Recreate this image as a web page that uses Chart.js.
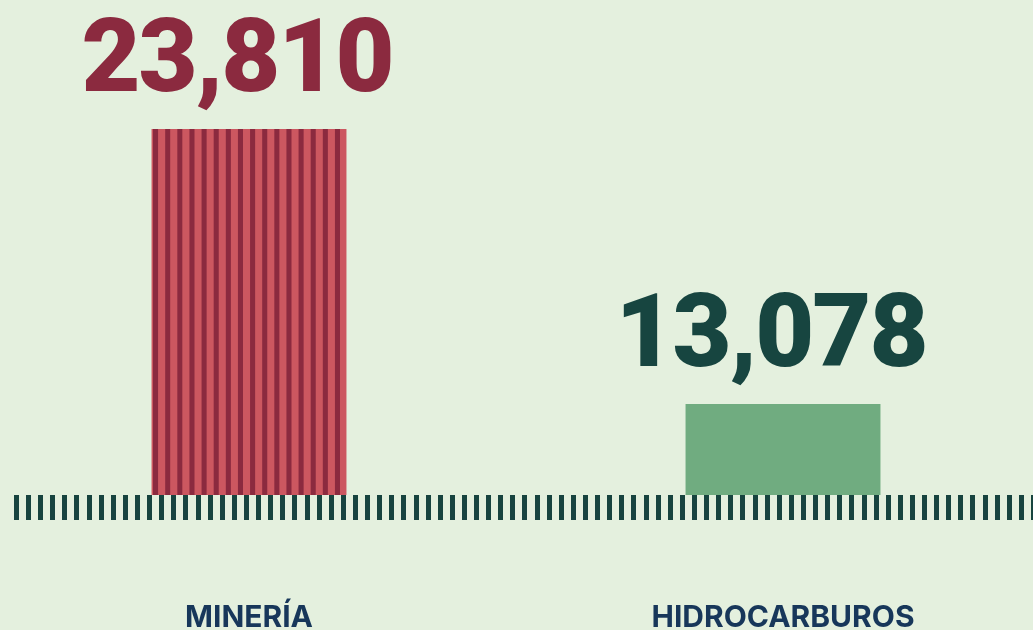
<!DOCTYPE html>
<html>
<head>
<meta charset="utf-8">
<script src="https://cdn.jsdelivr.net/npm/chart.js@4"></script>
<style>
  html, body { margin: 0; padding: 0; background: #e4f0de; overflow: hidden; }
  #wrap { position: absolute; left: -18px; top: 0; width: 1068px; height: 630px; }
</style>
</head>
<body>
<div id="wrap"><canvas id="chart"></canvas></div>
<script>
// Data
const categories = ['MINERÍA', 'HIDROCARBUROS'];
const values = [23810, 13078];
const labelColors = ['#8b2a3f', '#174540'];

// axis range (the bars start from a cut baseline, not from zero)
const yMin = 9527;
const yMax = 28844;

// the dashed strip under the bars
const stripTicks = 84;

// Striped fill for the first bar
function stripePattern(ctx) {
    const c = document.createElement('canvas');
    c.width = 12;
    c.height = 4;
    const p = c.getContext('2d');
    p.fillStyle = '#cc5760';
    p.fillRect(0, 0, 12, 4);
    p.fillStyle = '#8b2a3f';
    p.fillRect(0, 0, 5, 4);
    const pattern = ctx.createPattern(c, 'repeat');
    pattern.setTransform(new DOMMatrix([1.0108, 0, 0, 1, 1.18, 0]));
    return pattern;
}

const canvas = document.getElementById('chart');
const ctx = canvas.getContext('2d');

// Value labels above the bars
const valueLabels = {
    id: 'valueLabels',
    afterDatasetsDraw(chart) {
        const c = chart.ctx;
        const meta = chart.getDatasetMeta(0);
        c.save();
        c.font = '900 102px Roboto';
        c.letterSpacing = '-2px';
        c.textAlign = 'center';
        c.textBaseline = 'alphabetic';
        meta.data.forEach(function (bar, i) {
            c.fillStyle = labelColors[i];
            c.fillText(values[i].toLocaleString('en-US'), bar.x - 12, bar.y - 38);
        });
        c.restore();
    }
};

new Chart(canvas, {
    type: 'bar',
    data: {
        labels: categories,
        datasets: [{
            data: values,
            xAxisID: 'x',
            yAxisID: 'y',
            backgroundColor: [stripePattern(ctx), '#70ac80'],
            borderWidth: 0,
            categoryPercentage: 1,
            barPercentage: 0.365
        }]
    },
    options: {
        responsive: true,
        maintainAspectRatio: false,
        animation: false,
        layout: { padding: 0 },
        plugins: {
            legend: { display: false },
            tooltip: { enabled: false }
        },
        scales: {
            x: {
                position: 'bottom',
                weight: 1,
                grid: { display: false, drawTicks: false },
                border: { display: false },
                ticks: {
                    padding: 80,
                    color: '#17375a',
                    font: { family: 'Inter', size: 30, weight: 'bold' },
                    maxRotation: 0,
                    autoSkip: false
                },
                afterFit: function (scale) { scale.height = 110; }
            },
            y: {
                display: false,
                min: yMin,
                max: yMax
            },
            strip: {
                type: 'linear',
                position: 'bottom',
                weight: 0,
                min: -3.345,
                max: 84.86,
                offset: false,
                ticks: { display: false, stepSize: 1 },
                border: { display: false },
                grid: {
                    drawOnChartArea: false,
                    drawTicks: true,
                    tickLength: 25,
                    tickWidth: 5,
                    tickColor: '#17443f'
                },
                afterBuildTicks: function (scale) {
                    scale.ticks = scale.ticks.filter(function (t) {
                        return t.value >= 0 && t.value < stripTicks;
                    });
                },
                afterFit: function (scale) { scale.height = 25; }
            }
        }
    },
    plugins: [valueLabels]
});
</script>
</body>
</html>
